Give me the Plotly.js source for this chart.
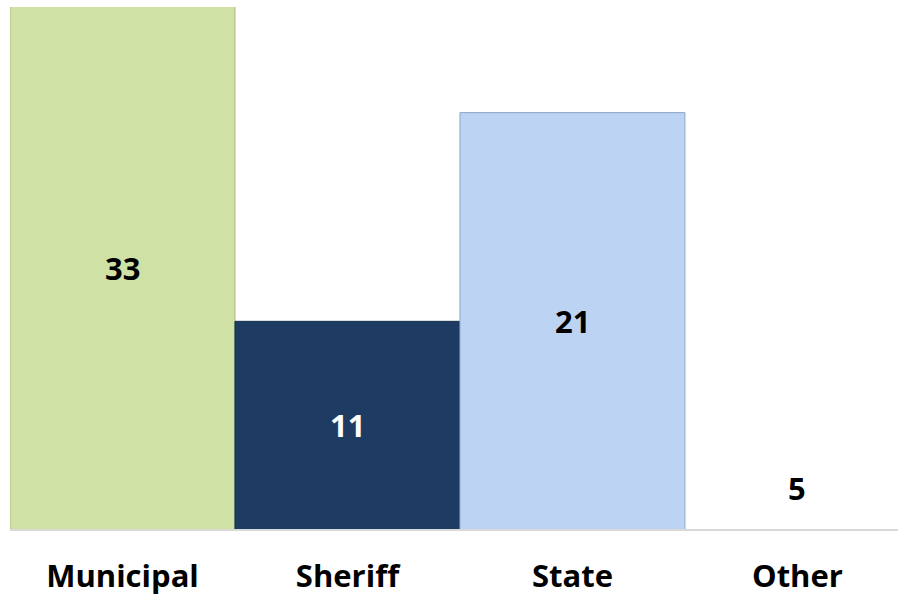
<!DOCTYPE html>
<html>
<head>
<meta charset="utf-8">
<script src="https://cdn.plot.ly/plotly-3.0.1.min.js"></script>
<style>html,body{margin:0;padding:0;background:#fff;}#chart{width:898px;height:597px;}</style>
</head>
<body>
<div id="chart"></div>
<script>
var categories = ["Municipal", "Sheriff", "State", "Other"];
var values = [33, 11, 21, 5];
var barColors = ["#d0e1a5", "#1e3c63", "#bcd3f3", "rgba(255,255,255,0)"];
var edgeColors = ["#a9bb80", "#15304f", "#8fa6c6", "rgba(255,255,255,0)"];
var edgeWidths = [1, 1, 1, 0];
var labelColors = ["#000000", "#ffffff", "#000000", "#000000"];

var yRange = [1.05, 26.06];

var trace = {
  type: "bar",
  x: categories,
  y: values,
  textposition: "none",
  marker: {color: barColors, line: {color: edgeColors, width: edgeWidths}},
  hoverinfo: "none"
};

// data labels centred on the visible part of each bar
var annotations = categories.map(function (c, i) {
  var top = Math.min(values[i], yRange[1]);
  var bottom = Math.max(0, yRange[0]);
  return {
    x: c,
    y: (top + bottom) / 2,
    xref: "x",
    yref: "y",
    text: String(values[i]),
    showarrow: false,
    xanchor: "center",
    yanchor: "middle",
    font: {family: "Open Sans", size: 31, color: labelColors[i], weight: 700}
  };
});

var layout = {
  width: 898,
  height: 597,
  margin: {l: 10, r: 0, t: 7, b: 68},
  paper_bgcolor: "#ffffff",
  plot_bgcolor: "#ffffff",
  bargap: 0,
  showlegend: false,
  annotations: annotations,
  xaxis: {
    type: "category",
    range: [-0.5, 3.447],
    showline: true,
    linecolor: "#d9d9d9",
    linewidth: 2,
    ticks: "",
    showgrid: false,
    zeroline: false,
    tickfont: {family: "Open Sans", size: 31, color: "#000000", weight: 700},
    ticklabelstandoff: 19
  },
  yaxis: {
    range: yRange,
    visible: false,
    showgrid: false,
    zeroline: false
  }
};

Plotly.newPlot("chart", [trace], layout, {displayModeBar: false, staticPlot: true});
</script>
</body>
</html>
